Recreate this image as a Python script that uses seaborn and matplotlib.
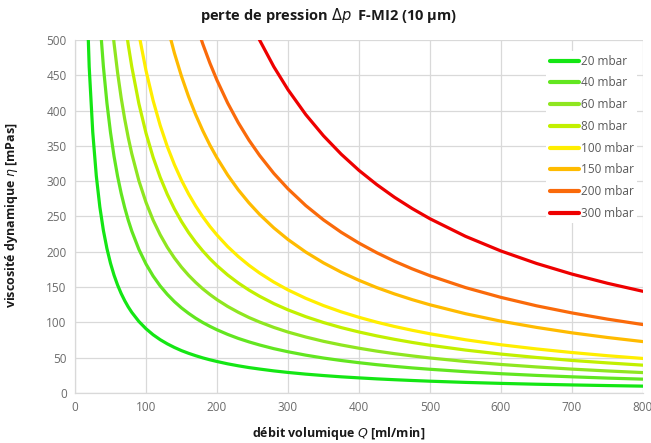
import numpy as np
import pandas as pd
import matplotlib
matplotlib.use("Agg")
import matplotlib.pyplot as plt
import seaborn as sns

# débit volumique Q [ml/min]
debit = [15, 20, 25, 30, 35, 40, 45, 50, 55, 60, 65, 70, 75, 80, 90, 100, 110, 120, 130, 140,
         150, 160, 170, 180, 190, 200, 215, 230, 245, 260, 280, 300, 325, 350, 375, 400, 425,
         450, 475, 500, 550, 600, 650, 700, 750, 800]

# viscosité dynamique [mPas], une série par perte de pression
eta_20 = [617, 462, 369.5, 307.6, 263.4, 230.2, 204.5, 183.8, 166.9, 152.9, 141.0, 130.8, 121.9,
          114.2, 101.3, 91.0, 82.5, 75.5, 69.6, 64.5, 60.0, 56.2, 52.8, 49.7, 47.0, 44.6, 41.3,
          38.5, 36.0, 33.9, 31.3, 29.1, 26.7, 24.7, 22.9, 21.4, 20.0, 18.8, 17.7, 16.7, 15.0,
          13.6, 12.4, 11.4, 10.5, 9.7]
eta_40 = [1239, 928, 741.9, 617.6, 528.8, 462.3, 410.5, 369.1, 335.2, 306.9, 283.0, 262.6, 244.8,
          229.3, 203.4, 182.7, 165.7, 151.6, 139.7, 129.4, 120.5, 112.8, 105.9, 99.8, 94.4, 89.5,
          83.0, 77.3, 72.4, 68.0, 62.8, 58.4, 53.6, 49.5, 46.0, 42.9, 40.1, 37.7, 35.5, 33.6,
          30.2, 27.3, 24.9, 22.9, 21.1, 19.6]
eta_60 = [1831, 1372, 1096.5, 912.8, 781.6, 683.2, 606.7, 545.5, 495.4, 453.7, 418.3, 388.1, 361.8,
          338.9, 300.6, 270.0, 244.9, 224.1, 206.4, 191.3, 178.2, 166.7, 156.6, 147.5, 139.5,
          132.2, 122.6, 114.3, 106.9, 100.5, 92.9, 86.3, 79.3, 73.2, 68.0, 63.4, 59.3, 55.7,
          52.5, 49.6, 44.6, 40.4, 36.9, 33.8, 31.2, 28.9]
eta_80 = [2496, 1870, 1495, 1244.5, 1065.6, 931.5, 827.2, 743.7, 675.4, 618.5, 570.3, 529.1, 493.3,
          462.0, 409.8, 368.1, 333.9, 305.5, 281.4, 260.8, 242.9, 227.2, 213.4, 201.2, 190.2,
          180.3, 167.2, 155.8, 145.8, 137.0, 126.6, 117.7, 108.1, 99.8, 92.6, 86.4, 80.9, 76.0,
          71.6, 67.6, 60.8, 55.1, 50.3, 46.1, 42.6, 39.4]
eta_100 = [3097, 2321, 1855, 1544, 1322, 1155.7, 1026.2, 922.7, 838.0, 767.4, 707.6, 656.4, 612.0,
           573.2, 508.5, 456.7, 414.3, 379.0, 349.1, 323.5, 301.3, 281.9, 264.8, 249.6, 235.9,
           223.7, 207.4, 193.3, 180.9, 169.9, 157.1, 146.0, 134.1, 123.8, 114.9, 107.2, 100.3,
           94.2, 88.8, 83.9, 75.4, 68.3, 62.4, 57.3, 52.8, 48.9]
eta_150 = [4611, 3455, 2761, 2298, 1968, 1720, 1527.7, 1373.5, 1247.4, 1142.3, 1053, 977.2, 911,
           853.3, 756.9, 679.8, 616.8, 564.2, 519.7, 481.6, 448.6, 419.7, 394.2, 371.5, 351.2,
           333.0, 308.8, 287.7, 269.3, 252.9, 233.9, 217.4, 199.6, 184.3, 171.1, 159.6, 149.3,
           140.3, 132.2, 124.9, 112.3, 101.7, 92.9, 85.2, 78.6, 72.8]
eta_200 = [6134, 4596, 3673, 3058, 2618, 2289, 2032, 1827, 1659.6, 1520, 1401, 1300, 1212,
           1135, 1007, 904.4, 820.5, 750.6, 691.5, 640.8, 596.8, 558.4, 524.4, 494.3, 467.3,
           443.0, 410.8, 382.8, 358.2, 336.5, 311.1, 289.2, 265.5, 245.2, 227.6, 212.3, 198.7,
           186.6, 175.8, 166.1, 149.3, 135.4, 123.5, 113.4, 104.6, 96.9]
eta_300 = [9113, 6828, 5457, 4543, 3890, 3400, 3019, 2715, 2465, 2258, 2082, 1931, 1800,
           1686, 1496, 1343.6, 1219, 1115, 1027.2, 951.9, 886.6, 829.5, 779.1, 734.3, 694.2,
           658.1, 610.3, 568.7, 532.2, 499.9, 462.2, 429.6, 394.4, 364.3, 338.2, 315.3, 295.2,
           277.2, 261.2, 246.8, 221.9, 201.1, 183.5, 168.4, 155.4, 144.0]

labels = ["20 mbar", "40 mbar", "60 mbar", "80 mbar", "100 mbar", "150 mbar", "200 mbar", "300 mbar"]
series = [eta_20, eta_40, eta_60, eta_80, eta_100, eta_150, eta_200, eta_300]
colors = ["#14e614", "#62e620", "#8fe620", "#c2f000", "#ffee00", "#ffbb00", "#fa6a0a", "#ee0000"]

rows = []
for lab, vals in zip(labels, series):
    for q, v in zip(debit, vals):
        rows.append({"Q": q, "eta": v, "dp": lab})
df = pd.DataFrame(rows)

sns.set_style("whitegrid")
plt.rcParams["font.family"] = ["Open Sans", "DejaVu Sans"]

fig = plt.figure(figsize=(6.51, 4.43), dpi=100)
ax = fig.add_axes([0.1152, 0.1129, 0.8725, 0.7968])

sns.lineplot(data=df, x="Q", y="eta", hue="dp", palette=dict(zip(labels, colors)),
             hue_order=labels, linewidth=2.3, ax=ax, legend=True)

ax.set_xlim(0, 800)
ax.set_ylim(0, 500)
ax.set_xticks(np.arange(0, 801, 100))
ax.set_yticks(np.arange(0, 501, 50))
ax.grid(color="#d9d9d9", linewidth=0.9)
for s in ["top", "right"]:
    ax.spines[s].set_visible(False)
for s in ["left", "bottom"]:
    ax.spines[s].set_color("#d9d9d9")
    ax.spines[s].set_linewidth(0.9)
ax.tick_params(axis="both", labelsize=8.5, colors="#6b6b6b", length=0, pad=6)
ax.set_xlabel("")
ax.set_ylabel("")

leg = ax.legend(loc="upper right", bbox_to_anchor=(1.0, 0.985), frameon=True, fontsize=8.5,
                handlelength=2.5, handletextpad=0.1, labelspacing=0.74, borderpad=0.3)
leg.get_frame().set_facecolor("white")
leg.get_frame().set_edgecolor("none")
leg.get_frame().set_alpha(1)
for t in leg.get_texts():
    t.set_color("#595959")
for h in leg.get_lines():
    h.set_linewidth(3)

fig.text(0.505, 0.966, r"perte de pression $\mathit{\Delta p}$  F-MI2 (10 µm)", ha="center", va="center",
         fontsize=10.5, fontweight="bold", color="#1a1a1a")
fig.text(0.52, 0.022, r"débit volumique $Q$ [ml/min]", ha="center", va="center",
         fontsize=9, fontweight="bold", color="#1a1a1a")
fig.text(0.018, 0.515, r"viscosité dynamique $\eta$ [mPas]", ha="center", va="center", rotation=90,
         fontsize=9, fontweight="bold", color="#1a1a1a")

fig.savefig("out.png", dpi=100)
